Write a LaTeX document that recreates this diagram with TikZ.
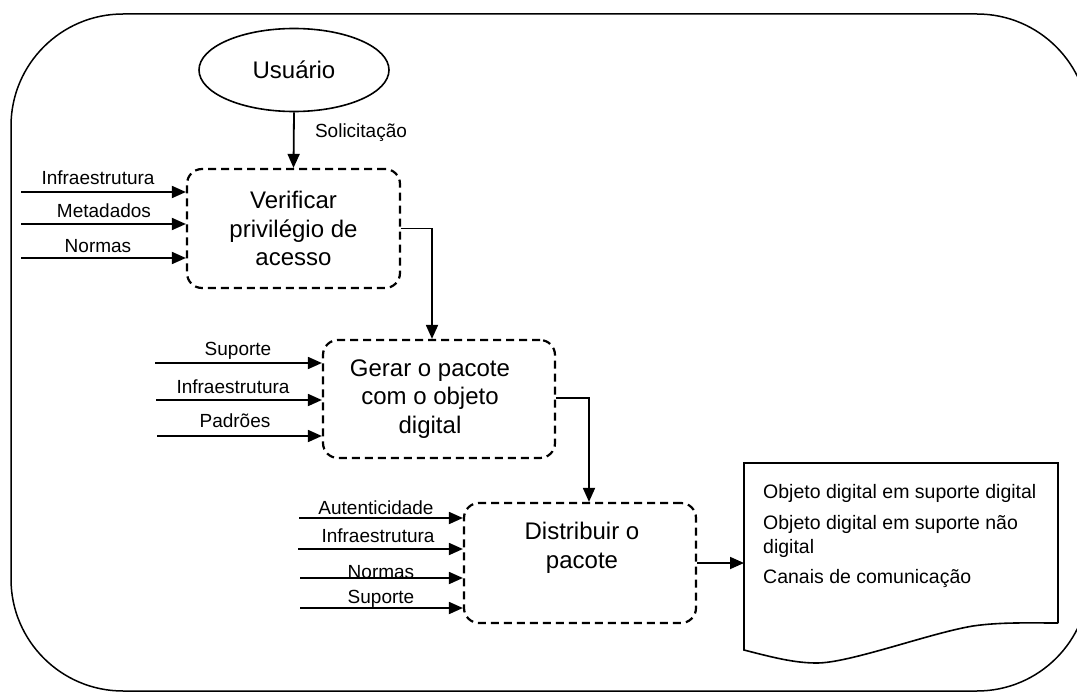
\documentclass[tikz,border=0pt]{standalone}
\usepackage{fontspec}
\setmainfont{Liberation Sans}
\usetikzlibrary{arrows.meta,shapes.geometric}
\begin{document}
\begin{tikzpicture}[x=1pt,y=-1pt,
  arr/.style={line width=1.8pt,-{Triangle[length=14pt,width=12pt]}},
  proc/.style={draw,line width=2.2pt,dash pattern=on 8pt off 5pt,rounded corners=15pt,inner sep=0pt},
  lbl/.style={font=\fontsize{19}{23}\selectfont,anchor=base,inner sep=0pt},
  big/.style={font=\fontsize{24}{28.5}\selectfont,align=center,inner sep=0pt},
  doctxt/.style={font=\fontsize{19.5}{24}\selectfont,anchor=base west,inner sep=0pt}]
\clip (0,0) rectangle (1077,693);
\useasboundingbox (0,0) rectangle (1077,693);
% outer frame
\draw[line width=1.5pt,rounded corners=112pt] (11,14) rectangle (1089,691);
% user
\node[draw,ellipse,line width=1.6pt,minimum width=190pt,minimum height=83pt,inner sep=0pt] (user) at (294,70) {};
\node[font=\fontsize{24}{28.5}\selectfont,anchor=base,inner sep=0pt] (usertxt) at (294,79) {Usuário};
% process boxes
\node[proc,minimum width=213pt,minimum height=119pt] (b1) at (293.5,228.5) {};
\node[big] (t1) at (293.5,228.5) {Verificar\\privilégio de\\acesso};
\node[proc,minimum width=232pt,minimum height=118pt] (b2) at (439,399) {};
\node[big] (t2) at (430,399) {Gerar o pacote\\com o objeto\\digital};
\node[proc,minimum width=232pt,minimum height=120pt] (b3) at (580,563) {};
\node[big] (t3) at (582,548) {Distribuir o\\pacote};
% user -> b1
\draw[arr] (user.south) -- (b1.north);
\node[lbl] (sol) at (361,137) {Solicitação};
% b1 -> b2
\coordinate (k1) at (432,0);
\draw[arr] (b1.east) -| (k1 |- b2.north);
% b2 -> b3
\coordinate (k2) at (589,0);
\draw[arr] (b2.east |- 0,398) -| (k2 |- b3.north);
% document
\draw[line width=1.6pt] (1058,623) -- (1058,463) -- (744,463) -- (744,650)
  .. controls (775,658) and (795,663) .. (817,663)
  .. controls (850,663) and (930,633) .. (973,626)
  .. controls (1000,622) and (1030,623) .. (1058,623);
\coordinate (docin) at (744,563);
\draw[arr] (b3.east) -- (docin);
\node[doctxt] (d1) at (763,498) {Objeto digital em suporte digital};
\node[doctxt] (d2) at (763,529) {Objeto digital em suporte não};
\node[doctxt] (d3) at (763,553) {digital};
\node[doctxt] (d4) at (763,583) {Canais de comunicação};
% inputs b1
\coordinate (a1) at (21,192);
\coordinate (a2) at (21,224);
\coordinate (a3) at (21,258);
\draw[arr] (a1) -- (a1 -| b1.west);
\draw[arr] (a2) -- (a2 -| b1.west);
\draw[arr] (a3) -- (a3 -| b1.west);
\node[lbl] (la1) at (98,184) {Infraestrutura};
\node[lbl] (la2) at (104,217) {Metadados};
\node[lbl] (la3) at (98,252) {Normas};
% inputs b2
\coordinate (c1) at (155,363);
\coordinate (c2) at (156,400);
\coordinate (c3) at (157,436);
\draw[arr] (c1) -- (c1 -| b2.west);
\draw[arr] (c2) -- (c2 -| b2.west);
\draw[arr] (c3) -- (c3 -| b2.west);
\node[lbl] (lc1) at (238,355) {Suporte};
\node[lbl] (lc2) at (233,393) {Infraestrutura};
\node[lbl] (lc3) at (235,427) {Padrões};
% inputs b3
\coordinate (e1) at (299,518);
\coordinate (e2) at (298,549);
\coordinate (e3) at (300,578);
\coordinate (e4) at (300,608);
\draw[arr] (e1) -- (e1 -| b3.west);
\draw[arr] (e2) -- (e2 -| b3.west);
\draw[arr] (e3) -- (e3 -| b3.west);
\draw[arr] (e4) -- (e4 -| b3.west);
\node[lbl] (le1) at (376,514) {Autenticidade};
\node[lbl] (le2) at (378,542) {Infraestrutura};
\node[lbl] (le3) at (381,578) {Normas};
\node[lbl] (le4) at (381,603) {Suporte};
\end{tikzpicture}
\end{document}
